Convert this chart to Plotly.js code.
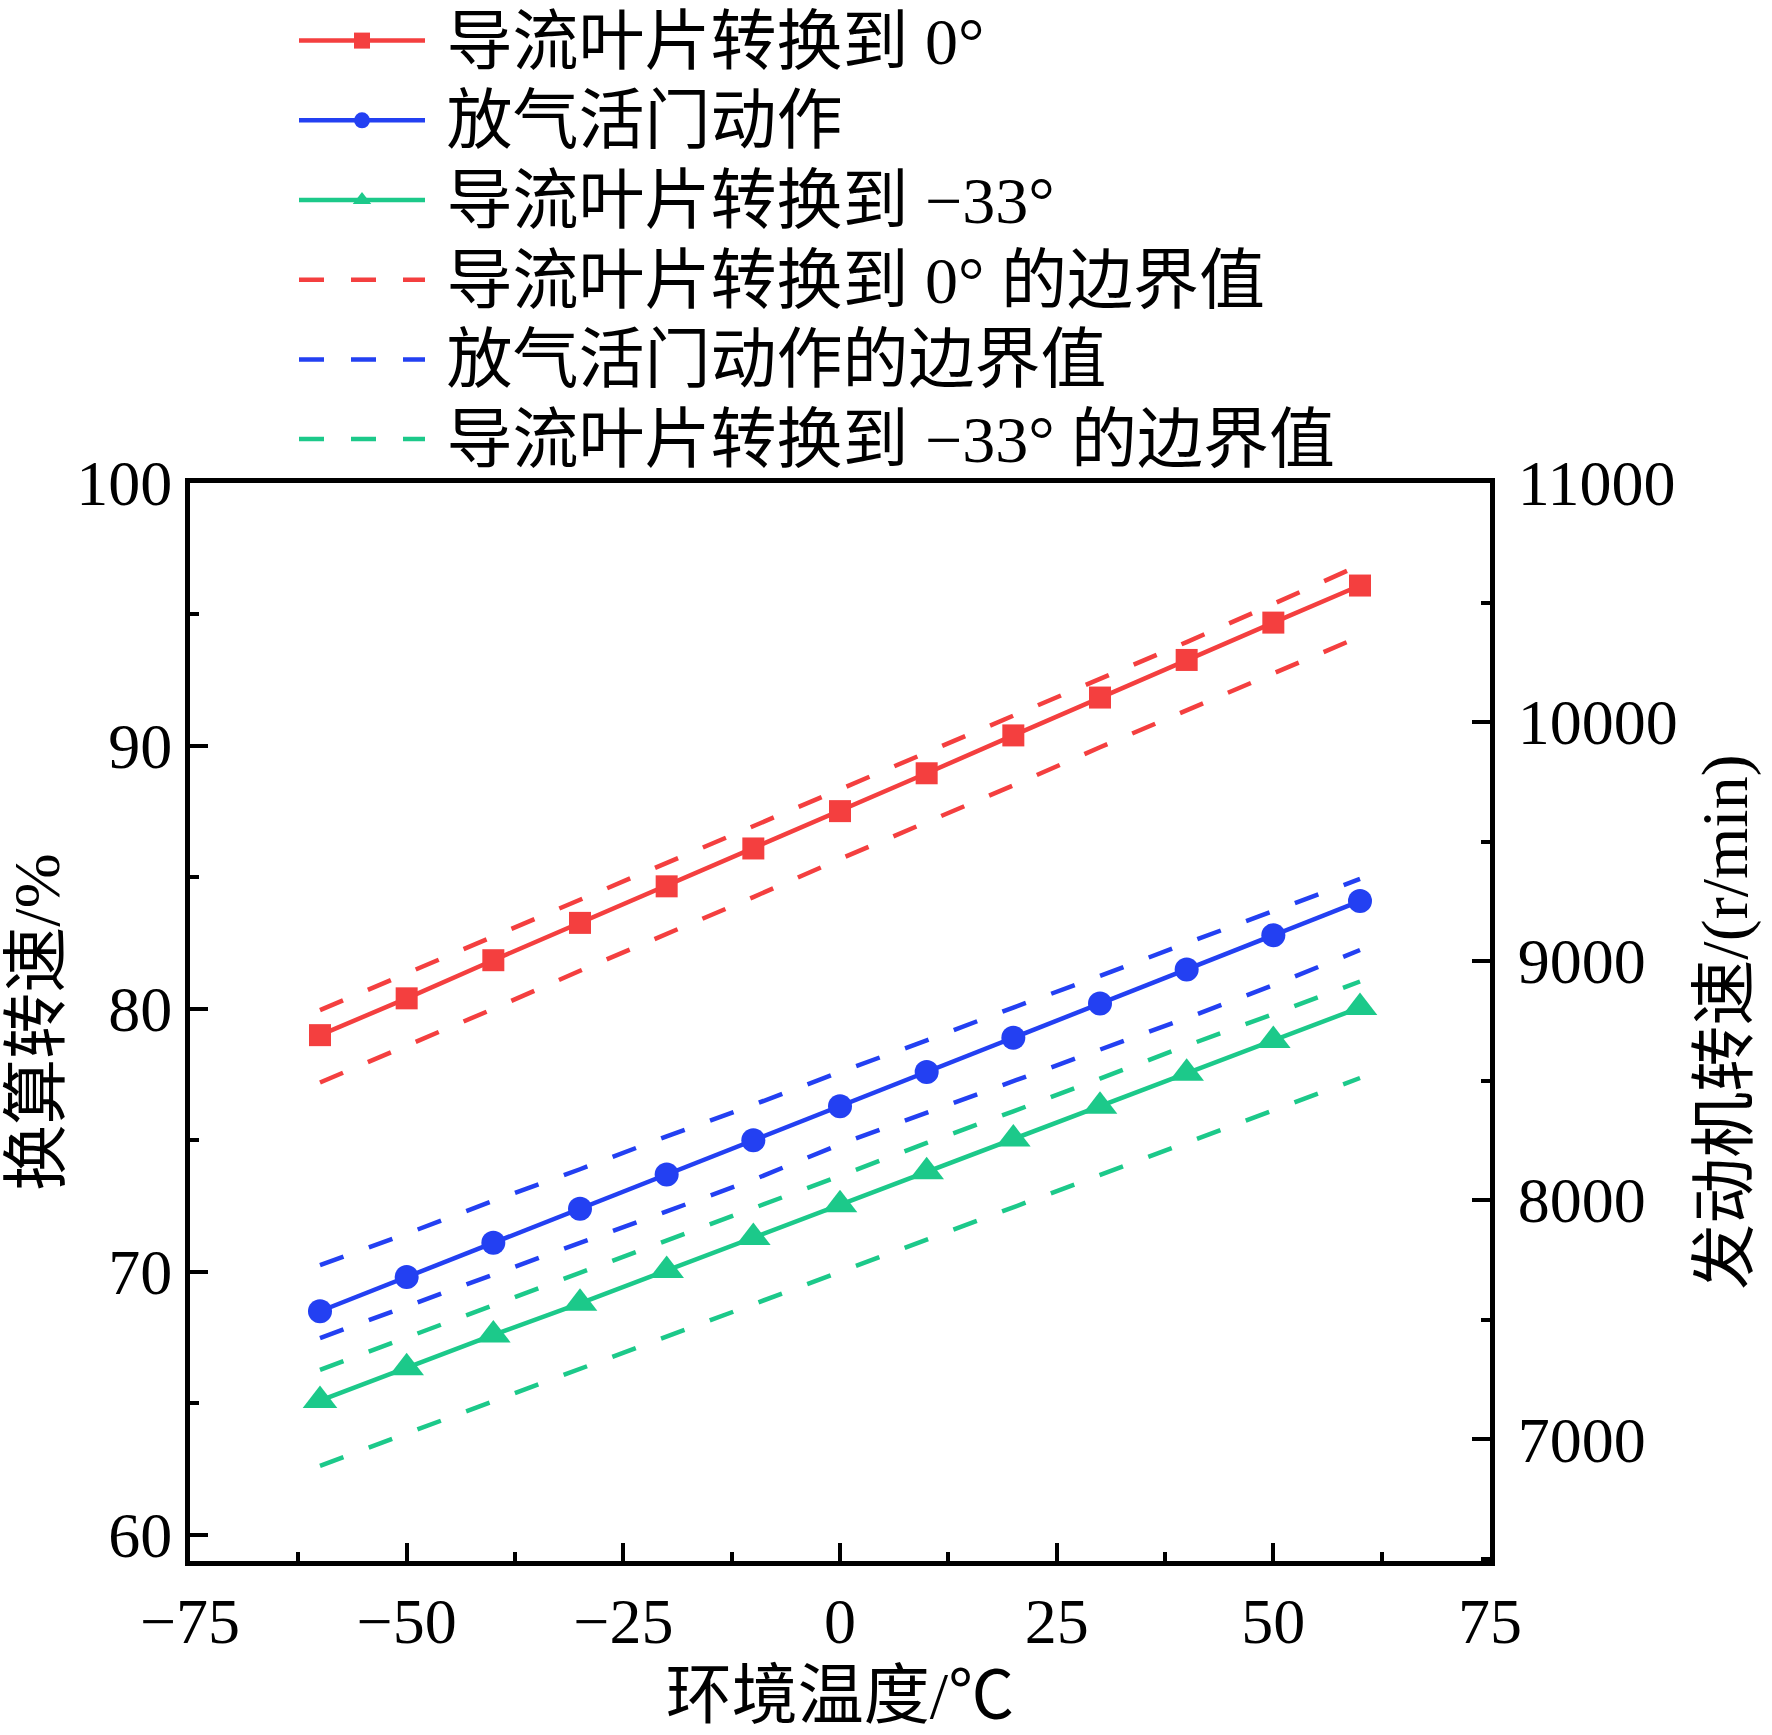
<!DOCTYPE html>
<html>
<head>
<meta charset="utf-8">
<script src="https://cdn.plot.ly/plotly-3.0.1.min.js"></script>
<style>html,body{margin:0;padding:0;background:#fff;}</style>
</head>
<body>
<div id="chart" style="width:1772px;height:1735px;"></div>
<script>
// ---- data ----
const temperature = [-60, -50, -40, -30, -20, -10, 0, 10, 20, 30, 40, 50, 60];

const vane0 = [79.0, 80.4, 81.85, 83.27, 84.66, 86.1, 87.52, 88.96, 90.4, 91.84, 93.27, 94.69, 96.1];
const bleedValve = [68.5, 69.8, 71.1, 72.4, 73.7, 75.0, 76.3, 77.6, 78.9, 80.2, 81.5, 82.8, 84.1];
const vaneMinus33 = [65.1, 66.35, 67.6, 68.8, 70.05, 71.3, 72.55, 73.8, 75.05, 76.3, 77.55, 78.8, 80.05];

const vane0Upper = [79.95, 81.35, 82.75, 84.15, 85.55, 86.95, 88.35, 89.75, 91.15, 92.55, 93.95, 95.4, 96.88];
const vane0Lower = [77.2, 78.6, 80.0, 81.45, 82.85, 84.25, 85.7, 87.1, 88.5, 89.95, 91.35, 92.75, 94.16];
const bleedUpper = [70.25, 71.45, 72.7, 73.9, 75.15, 76.35, 77.6, 78.8, 80.05, 81.25, 82.5, 83.7, 84.94];
const bleedLower = [67.48, 68.7, 69.9, 71.1, 72.3, 73.5, 74.85, 76.05, 77.25, 78.45, 79.65, 80.9, 82.24];
const m33Upper = [66.27, 67.5, 68.7, 69.95, 71.2, 72.4, 73.65, 74.9, 76.1, 77.35, 78.6, 79.8, 81.04];
const m33Lower = [62.62, 63.85, 65.1, 66.3, 67.55, 68.75, 70.0, 71.25, 72.45, 73.7, 74.9, 76.15, 77.37];

const seriesNames = [
  '导流叶片转换到 0°',
  '放气活门动作',
  '导流叶片转换到 −33°',
  '导流叶片转换到 0° 的边界值',
  '放气活门动作的边界值',
  '导流叶片转换到 −33° 的边界值'
];

const xTickVals = [-75, -50, -25, 0, 25, 50, 75];
const yTickVals = [60, 70, 80, 90, 100];
const y2TickVals = [7000, 8000, 9000, 10000, 11000];
const yRange = [59, 100];
const rpmPerPercent = 110;   // right axis: r/min = 110 × %

const xTitle = '环境温度/℃';
const yTitle = '换算转速/%';
const y2Title = '发动机转速/(r/min)';

// ---- styles ----
const RED = '#F43F3F', BLUE = '#2340F2', GREEN = '#1CC98A';
const FONT = 'Liberation Serif, "Noto Sans CJK SC", serif';
const LW = 4.5;
const DASH = '25px,27px';

function legendLabel(name) {
  return '<span style="font-size:66px">\u00A0' + name + '</span>';
}

function solid(name, y, color, symbol, size) {
  return {
    x: temperature, y: y, name: legendLabel(name), type: 'scatter', mode: 'lines+markers',
    line: {color: color, width: LW},
    marker: {symbol: symbol, size: size, color: color}
  };
}
function dashed(name, y, color, show, group) {
  return {
    x: temperature, y: y, name: legendLabel(name), type: 'scatter', mode: 'lines',
    line: {color: color, width: LW, dash: DASH},
    showlegend: show, legendgroup: group
  };
}

const traces = [
  solid(seriesNames[0], vane0, RED, 'square', 22),
  solid(seriesNames[1], bleedValve, BLUE, 'circle', 24),
  solid(seriesNames[2], vaneMinus33, GREEN, 'triangle-up', 30),
  dashed(seriesNames[3], vane0Upper, RED, true, 'r'),
  dashed(seriesNames[3], vane0Lower, RED, false, 'r'),
  dashed(seriesNames[4], bleedUpper, BLUE, true, 'b'),
  dashed(seriesNames[4], bleedLower, BLUE, false, 'b'),
  dashed(seriesNames[5], m33Upper, GREEN, true, 'g'),
  dashed(seriesNames[5], m33Lower, GREEN, false, 'g'),
  // right axis (engine speed in r/min) carries the same first series, invisibly
  {
    x: temperature, y: vane0.map(v => v * rpmPerPercent), yaxis: 'y2',
    type: 'scatter', mode: 'lines', line: {width: 0, color: 'rgba(0,0,0,0)'},
    showlegend: false, hoverinfo: 'skip'
  }
];

const axisCommon = {
  showline: true, linecolor: '#000', linewidth: 5,
  ticks: 'inside', ticklen: 18, tickwidth: 4, tickcolor: '#000',
  showgrid: false, zeroline: false,
  tickfont: {family: FONT, size: 64, color: '#000'}
};
const titleFont = {family: FONT, size: 66, color: '#000'};

const layout = {
  width: 1772, height: 1735,
  margin: {l: 190, r: 282, t: 483, b: 174, autoexpand: false},
  paper_bgcolor: '#fff', plot_bgcolor: '#fff',
  font: {family: FONT, color: '#000'},
  showlegend: true,
  legend: {
    x: 0.08, y: 1.452, xanchor: 'left', yanchor: 'top',
    font: {family: FONT, size: 59, color: '#000'},
    itemwidth: 126, tracegroupgap: 0, bgcolor: 'rgba(0,0,0,0)',
    traceorder: 'normal'
  },
  xaxis: Object.assign({}, axisCommon, {
    range: [-75, 75], tickvals: xTickVals, mirror: true,
    minor: {dtick: 12.5, tick0: -75, ticks: 'inside', ticklen: 9, tickwidth: 4, tickcolor: '#000'},
    title: {text: xTitle, font: titleFont, standoff: 18}
  }),
  yaxis: Object.assign({}, axisCommon, {
    range: yRange, tickvals: yTickVals,
    minor: {dtick: 5, tick0: 60, ticks: 'inside', ticklen: 9, tickwidth: 4, tickcolor: '#000'},
    title: {text: yTitle, font: titleFont, standoff: 4}
  }),
  yaxis2: Object.assign({}, axisCommon, {
    overlaying: 'y', side: 'right', anchor: 'x',
    range: [yRange[0] * rpmPerPercent, yRange[1] * rpmPerPercent],
    tickvals: y2TickVals, tickformat: 'd', ticklabelstandoff: 10,
    minor: {dtick: 500, tick0: 7000, ticks: 'inside', ticklen: 9, tickwidth: 4, tickcolor: '#000'},
    title: {text: y2Title, font: titleFont, standoff: 26}
  })
};

Plotly.newPlot('chart', traces, layout, {displayModeBar: false, staticPlot: true});
</script>
</body>
</html>
